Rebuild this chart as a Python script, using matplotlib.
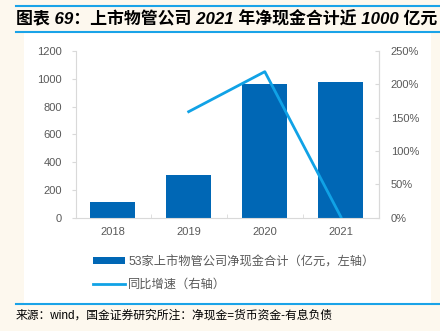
import numpy as np
import matplotlib.pyplot as plt
from matplotlib.patches import Rectangle, Patch
from matplotlib.lines import Line2D

plt.rcParams['font.family'] = ['Liberation Sans', 'Noto Sans CJK SC', 'DejaVu Sans']

# --- データ ---
years = ['2018', '2019', '2020', '2021']
net_cash = [114, 306, 964, 977]          # 亿元
growth_years = ['2019', '2020', '2021']
growth = [159, 219, 1]                   # %
left_ticks = [0, 200, 400, 600, 800, 1000, 1200]
right_ticks = [0, 50, 100, 150, 200, 250]

title = '图表 69：上市物管公司 2021 年净现金合计近 1000 亿元'
source = '来源：wind，国金证券研究所注：净现金=货币资金-有息负债'
bar_label = '53家上市物管公司净现金合计（亿元，左轴）'
line_label = '同比增速（右轴）'

bar_color = '#0067B5'
line_color = '#10A2E6'
blue_rule = '#1AA3E8'
gray = '#595959'
spine_gray = '#D9D9D9'

fig = plt.figure(figsize=(4.4, 3.31), dpi=100, facecolor='#FDF8EE')

# 白いパネル
fig.add_artist(Rectangle((24 / 440, 1 - 303 / 331), 407 / 440, 270 / 331,
                         transform=fig.transFigure, facecolor='white',
                         edgecolor='none', zorder=-5))
for y in [6, 32, 304]:
    fig.add_artist(Line2D([16 / 440, 1], [1 - y / 331, 1 - y / 331],
                          transform=fig.transFigure, color=blue_rule, lw=1.5))

fig.text(16 / 440, 1 - 19 / 331, title, fontsize=12.2, fontweight='bold',
         style='italic', color='black', va='center', ha='left')
fig.text(16 / 440, 1 - 316 / 331, source, fontsize=8.5, color='black',
         va='center', ha='left')

ax = fig.add_axes([76 / 440, 1 - 217.7 / 331, 303 / 440, 166.7 / 331])
ax.set_facecolor('none')
x = np.arange(len(years))
ax.bar(x, net_cash, width=0.59, color=bar_color, zorder=2)
ax.set_xlim(-0.48, 3.5)
ax.set_ylim(0, 1200)
ax.set_yticks(left_ticks)
ax.set_xticks(x)
ax.set_xticklabels(years)
ax.set_xticks(x[:-1] + 0.5, minor=True)
ax.tick_params(axis='x', which='major', length=0, pad=7, labelsize=8, labelcolor=gray)
ax.tick_params(axis='x', which='minor', length=3, direction='in', color=spine_gray)
ax.tick_params(axis='y', length=3, color=spine_gray, labelsize=8, labelcolor=gray, pad=7)
ax.spines['top'].set_visible(False)
for s in ['left', 'right', 'bottom']:
    ax.spines[s].set_color(spine_gray)

ax2 = ax.twinx()
gx = [years.index(y) for y in growth_years]
ax2.plot(gx, growth, color=line_color, lw=2, zorder=3)
ax2.set_ylim(0, 250)
ax2.set_yticks(right_ticks)
ax2.set_yticklabels([f'{t}%' for t in right_ticks])
ax2.tick_params(axis='y', length=3, direction='in', color=spine_gray,
                labelsize=8, labelcolor=gray, pad=8.5)
for s in ['top', 'left', 'bottom']:
    ax2.spines[s].set_visible(False)
ax2.spines['right'].set_color(spine_gray)

handles = [Patch(facecolor=bar_color, edgecolor='none'),
           Line2D([], [], color=line_color, lw=2)]
fig.legend(handles, [bar_label, line_label], loc='upper left',
           bbox_to_anchor=(88 / 440, 1 - 251 / 331), frameon=False,
           fontsize=8.8, labelcolor=gray, handlelength=2.6, handleheight=0.55,
           handletextpad=0.3, labelspacing=0.9, borderaxespad=0)

fig.savefig('out.png', dpi=100, facecolor=fig.get_facecolor())
